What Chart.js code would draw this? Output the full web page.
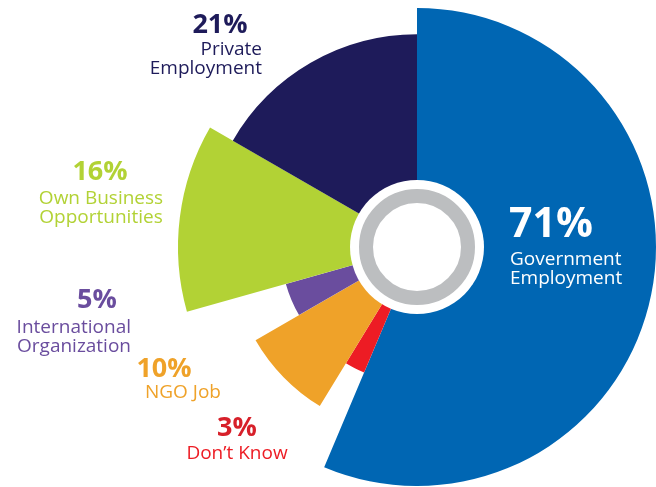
<!DOCTYPE html>
<html>
<head>
<meta charset="utf-8">
<title>Employment preferences</title>
<script src="https://cdn.jsdelivr.net/npm/chart.js@4/dist/chart.umd.min.js"></script>
<style>
  html, body { margin: 0; padding: 0; background: #fff; }
  #wrap { width: 656px; height: 487px; position: relative; }
</style>
</head>
<body>
<div id="wrap"><canvas id="prefChart"></canvas></div>
<script>
// Slices run clockwise from 12 o'clock
const categories = ['Government Employment', 'Don\u2019t Know', 'NGO Job', 'International Organization', 'Own Business Opportunities', 'Private Employment'];
const shares = [71, 3, 10, 5, 16, 21];          // percent, sets each slice's sweep
const reach = [100, 57, 78, 57, 100, 89];       // slice length on the 0-100 radial scale
const sliceColors = ['#0066b3', '#ed1c24', '#efa229', '#6a4d9e', '#b2d235', '#1e1b5a'];
const textColors = ['#ffffff', '#d7202a', '#efa229', '#6a4d9e', '#b2d235', '#1e1b5a'];
const labelLines = [
  ['Government', 'Employment'],
  ['Don\u2019t Know'],
  ['NGO Job'],
  ['International', 'Organization'],
  ['Own Business', 'Opportunities'],
  ['Private', 'Employment'],
];

const totalShare = shares.reduce((s, v) => s + v, 0);

// where each callout sits: percent line first, then the name lines
const callouts = [
  { pct: [509, 237, 'left', 41], lines: [[510, 265, 'left'], [510, 284, 'left']] },
  { pct: [237, 436, 'center', 27], lines: [[237, 459, 'center']] },
  { pct: [164, 377, 'center', 27], lines: [[183, 398, 'center']] },
  { pct: [97, 308, 'center', 27], lines: [[131, 333, 'right'], [131, 352, 'right']] },
  { pct: [100, 180, 'center', 27], lines: [[101, 204, 'center'], [101, 223, 'center']] },
  { pct: [220, 33, 'center', 27], lines: [[262, 55, 'right'], [262, 74, 'right']] },
];

const FONT = '"Open Sans", "Noto Sans", sans-serif';

const hubPlugin = {
  id: 'hub',
  afterDatasetsDraw(chart) {
    const r = chart.scales.r;
    const ctx = chart.ctx;
    ctx.save();
    ctx.fillStyle = '#ffffff';
    ctx.beginPath();
    ctx.arc(r.xCenter, r.yCenter, 67, 0, Math.PI * 2);
    ctx.fill();
    ctx.strokeStyle = '#bcbec0';
    ctx.lineWidth = 14;
    ctx.beginPath();
    ctx.arc(r.xCenter, r.yCenter, 51, 0, Math.PI * 2);
    ctx.stroke();
    ctx.restore();
  }
};

const calloutPlugin = {
  id: 'callouts',
  afterDraw(chart) {
    const ctx = chart.ctx;
    ctx.save();
    ctx.textBaseline = 'alphabetic';
    callouts.forEach((c, i) => {
      const [px, py, palign, psize] = c.pct;
      ctx.fillStyle = textColors[i];
      ctx.textAlign = palign;
      ctx.font = `bold ${psize}px ${FONT}`;
      ctx.fillText(shares[i] + '%', px, py);
      ctx.fillStyle = i === 1 ? '#ed1c24' : textColors[i];
      ctx.font = `19px ${FONT}`;
      labelLines[i].forEach((txt, j) => {
        const [lx, ly, lalign] = c.lines[j];
        ctx.textAlign = lalign;
        ctx.fillText(txt, lx, ly);
      });
    });
    ctx.restore();
  }
};

new Chart(document.getElementById('prefChart'), {
  type: 'polarArea',
  data: {
    labels: categories,
    datasets: [{
      data: reach,
      backgroundColor: sliceColors,
      borderWidth: 0,
      angle: ctx => shares[ctx.dataIndex] / totalShare * 360,
    }],
  },
  options: {
    responsive: true,
    maintainAspectRatio: false,
    animation: false,
    layout: { padding: { left: 178, right: 0, top: 8, bottom: 1 } },
    plugins: { legend: { display: false }, tooltip: { enabled: false } },
    scales: {
      r: {
        min: 0,
        max: 100,
        startAngle: 0,
        grid: { display: false },
        angleLines: { display: false },
        pointLabels: { display: false },
        ticks: { display: false },
      },
    },
  },
  plugins: [hubPlugin, calloutPlugin],
});
</script>
</body>
</html>
